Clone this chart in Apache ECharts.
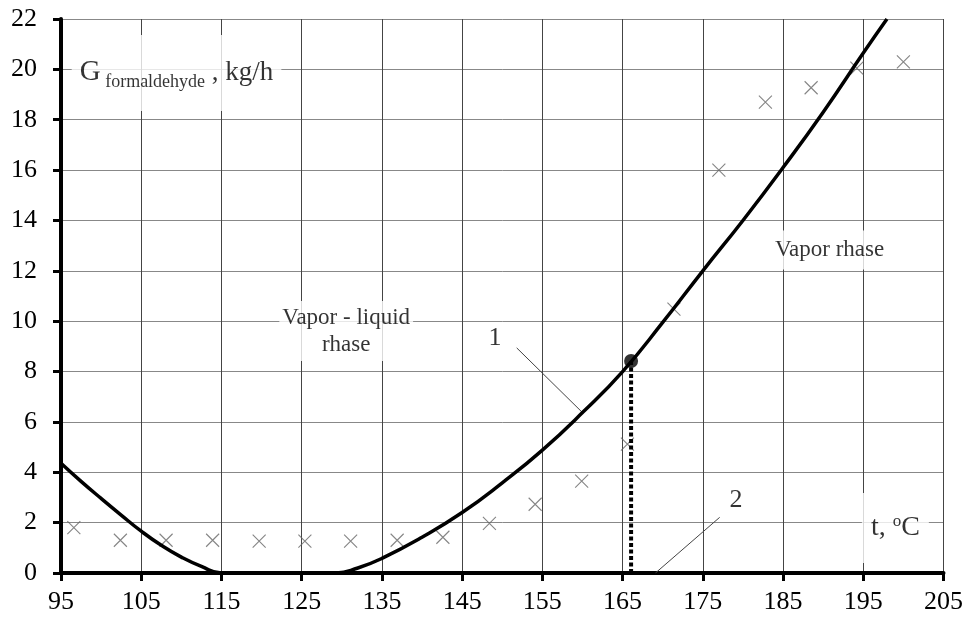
<!DOCTYPE html>
<html lang="en">
	<head>
		<meta charset="utf-8">
		<title>G formaldehyde, kg/h vs t, ºC</title>
		<script src="https://cdn.jsdelivr.net/npm/echarts@6/dist/echarts.min.js"></script>
		<style>
			html, body { margin: 0; padding: 0; background: #fff; }
			#main { width: 966px; height: 618px; }
		</style>
	</head>
	<body>
		<div id="main"></div>
		<script>
			// curve 1
			var curveT = [95, 97.5, 100, 102.5, 105, 107.5, 110, 112.5, 115, 129.3, 132, 135, 140, 145, 150, 155, 160, 165, 170, 175, 180, 185, 190, 195, 197.95];
			var curveG = [4.36, 3.64, 2.96, 2.3, 1.66, 1.1, 0.63, 0.26, 0, 0, 0.2, 0.58, 1.42, 2.4, 3.58, 4.88, 6.37, 8.0, 9.95, 12.0, 14.0, 16.1, 18.3, 20.65, 22];
			// crosses (series 2)
			var crossT = [96.6, 102.4, 108.1, 113.9, 119.7, 125.4, 131.1, 136.9, 142.6, 148.4, 154.1, 159.9, 165.6, 171.4, 177.0, 182.8, 188.5, 194.2, 200.0];
			var crossG = [1.8, 1.3, 1.3, 1.3, 1.27, 1.27, 1.27, 1.3, 1.42, 1.97, 2.73, 3.65, 5.12, 10.48, 16.0, 18.7, 19.27, 20.05, 20.3];
			// marked point and its drop line
			var pointT = 166.06;
			var pointG = 8.42;
			// leader lines for labels 1 and 2
			var leader1T = [151.8, 160.1];
			var leader1G = [8.94, 6.34];
			var leader2T = [177.1, 169.1];
			var leader2G = [2.21, 0];
			// axes
			var xMin = 95, xMax = 205, xStep = 10;
			var yMin = 0, yMax = 22, yStep = 2;
			// text notes placed in data units
			var noteKeys = ['yname', 'xname', 'vl', 'v', 'one', 'two'];
			var noteT = [109.4, 199.0, 130.55, 190.8, 149.1, 179.15];
			var noteG = [19.86, 1.79, 9.61, 12.83, 9.33, 2.9];

			var serif = "'Liberation Serif', 'Times New Roman', serif";

			function pairs(xs, ys) {
				var out = [];
				for(var i = 0; i < xs.length; i++) {
					out.push([xs[i], ys[i]]);
				}
				return out;
			}

			var noteLabels = {
				yname: {
					formatter: '{g|G}{s| formaldehyde}{k| , kg/h}',
					backgroundColor: '#fff',
					padding: [20, 8],
					rich: {
						g: { fontFamily: serif, fontSize: 29, lineHeight: 36, color: '#000' },
						s: { fontFamily: serif, fontSize: 18, lineHeight: 20, verticalAlign: 'bottom', color: '#000' },
						k: { fontFamily: serif, fontSize: 27, lineHeight: 36, color: '#000' }
					}
				},
				xname: {
					formatter: '{a|t, }{o|o}{a|C}',
					backgroundColor: '#fff',
					padding: [20, 9],
					rich: {
						a: { fontFamily: serif, fontSize: 28, lineHeight: 30, color: '#000' },
						o: { fontFamily: serif, fontSize: 17, lineHeight: 18, verticalAlign: 'top', color: '#000' }
					}
				},
				vl: {
					formatter: 'Vapor - liquid\nrhase',
					backgroundColor: '#fff',
					padding: [3, 3],
					fontFamily: serif,
					fontSize: 23,
					lineHeight: 27,
					align: 'center',
					color: '#000'
				},
				v: {
					formatter: 'Vapor rhase',
					backgroundColor: '#fff',
					padding: [8, 4],
					fontFamily: serif,
					fontSize: 23,
					color: '#000'
				},
				one: {
					formatter: '1',
					backgroundColor: '#fff',
					fontFamily: serif,
					fontSize: 26,
					color: '#000'
				},
				two: {
					formatter: '2',
					fontFamily: serif,
					fontSize: 26,
					color: '#000'
				}
			};

			var noteData = [];
			for(var i = 0; i < noteKeys.length; i++) {
				var lab = noteLabels[noteKeys[i]];
				lab.show = true;
				lab.position = 'inside';
				noteData.push({
					value: [noteT[i], noteG[i]],
					label: lab
				});
			}

			var option = {
				animation: false,
				backgroundColor: '#fff',
				grid: {
					left: 61,
					right: 20,
					top: 19,
					bottom: 45
				},
				xAxis: {
					type: 'value',
					min: xMin,
					max: xMax,
					interval: xStep,
					axisLine: { show: true, onZero: false, lineStyle: { color: '#000', width: 4 } },
					axisTick: { show: true, length: 8, lineStyle: { color: '#000', width: 3 } },
					axisLabel: { margin: 16, fontFamily: serif, fontSize: 26, color: '#000' },
					splitLine: { show: true, lineStyle: { color: '#444', width: 1 } }
				},
				yAxis: {
					type: 'value',
					min: yMin,
					max: yMax,
					interval: yStep,
					axisLine: { show: true, lineStyle: { color: '#000', width: 4 } },
					axisTick: { show: true, length: 8, lineStyle: { color: '#000', width: 3 } },
					axisLabel: { margin: 24, fontFamily: serif, fontSize: 26, color: '#000' },
					splitLine: { show: true, lineStyle: { color: '#888', width: 1 } }
				},
				series: [{
					name: '1',
					type: 'line',
					data: pairs(curveT, curveG),
					smooth: 0.5,
					symbol: 'none',
					lineStyle: { color: '#000', width: 3.5 },
					z: 5
				}, {
					name: '2',
					type: 'scatter',
					data: pairs(crossT, crossG),
					symbol: 'path://M0,0L10,10M10,0L0,10',
					symbolSize: 13,
					itemStyle: { color: 'rgba(0,0,0,0)', borderColor: '#666', borderWidth: 1.1 },
					z: 4
				}, {
					name: 'drop',
					type: 'line',
					data: [[pointT, pointG], [pointT, 0]],
					symbol: 'none',
					lineStyle: { color: '#000', width: 4, type: [4, 2.5] },
					z: 6
				}, {
					name: 'point',
					type: 'scatter',
					data: [[pointT, pointG]],
					symbol: 'circle',
					symbolSize: 14,
					itemStyle: { color: '#000' },
					z: 7
				}, {
					name: 'leader1',
					type: 'line',
					data: pairs(leader1T, leader1G),
					symbol: 'none',
					lineStyle: { color: '#444', width: 1 },
					z: 3
				}, {
					name: 'leader2',
					type: 'line',
					data: pairs(leader2T, leader2G),
					symbol: 'none',
					lineStyle: { color: '#444', width: 1 },
					z: 3
				}, {
					name: 'notes',
					type: 'scatter',
					data: noteData,
					symbol: 'circle',
					symbolSize: 1,
					itemStyle: { color: 'rgba(0,0,0,0)' },
					silent: true,
					z: 8
				}]
			};

			var myChart = echarts.init(document.getElementById('main'));
			myChart.setOption(option);
			window.addEventListener("resize", function() {
				myChart.resize();
			});
		</script>
	</body>
</html>
